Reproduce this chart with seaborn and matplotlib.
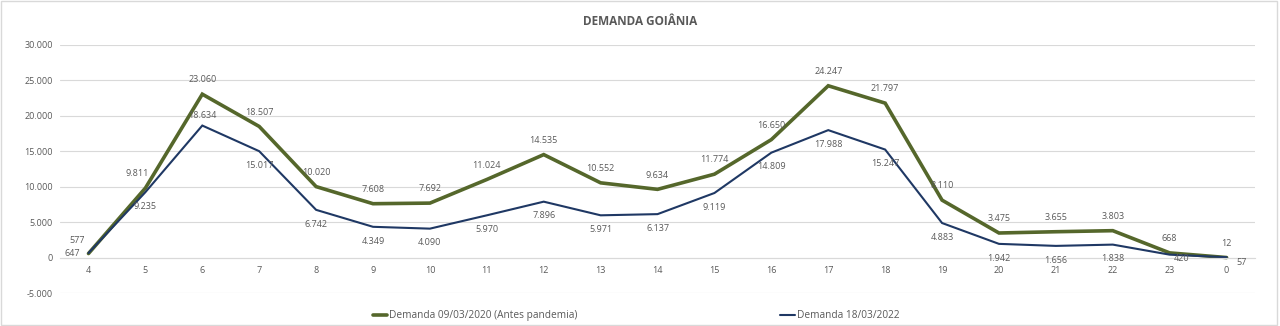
import numpy as np
import pandas as pd
import matplotlib
matplotlib.use("Agg")
import matplotlib.pyplot as plt
from matplotlib.patches import Rectangle
from matplotlib.lines import Line2D
import seaborn as sns

hours = ["4", "5", "6", "7", "8", "9", "10", "11", "12", "13", "14", "15",
         "16", "17", "18", "19", "20", "21", "22", "23", "0"]
demanda_2020 = [577, 9811, 23060, 18507, 10020, 7608, 7692, 11024, 14535, 10552,
                9634, 11774, 16650, 24247, 21797, 8110, 3475, 3655, 3803, 668, 12]
demanda_2022 = [647, 9235, 18634, 15017, 6742, 4349, 4090, 5970, 7896, 5971,
                6137, 9119, 14809, 17988, 15247, 4883, 1942, 1656, 1838, 420, 57]
series_names = ["Demanda 09/03/2020 (Antes pandemia)", "Demanda 18/03/2022"]
y_ticks = [-5000, 0, 5000, 10000, 15000, 20000, 25000, 30000]

GREEN = "#55672b"
BLUE = "#1f3864"
GRAY = "#595959"

sns.set_theme(style="white")
plt.rcParams["font.family"] = ["Open Sans", "DejaVu Sans"]

pos = np.arange(len(hours))
df = pd.DataFrame({
    "pos": np.concatenate([pos, pos]),
    "valor": demanda_2020 + demanda_2022,
    "serie": [series_names[0]] * len(hours) + [series_names[1]] * len(hours),
})

fig = plt.figure(figsize=(12.8, 3.26), dpi=100)
ax = fig.add_axes([0.0469, 0.101, 0.9336, 0.761])

sns.lineplot(data=df, x="pos", y="valor", hue="serie", sort=False,
             palette={series_names[0]: GREEN, series_names[1]: BLUE},
             ax=ax, legend=False)
for line, lw in zip(ax.lines, [2.6, 1.5]):
    line.set_linewidth(lw)
    line.set_solid_joinstyle("miter")

ax.set_xlim(-0.5, len(hours) - 0.5)
ax.set_ylim(-5000, 30000)
ax.set_yticks(y_ticks)
ax.set_yticklabels([f"{t:,}".replace(",", ".") for t in y_ticks])
ax.set_xticks(pos)
ax.set_xticklabels(hours)
ax.grid(axis="y", color="#d9d9d9", linewidth=0.8)
ax.set_axisbelow(True)
for s in ["top", "right", "left"]:
    ax.spines[s].set_visible(False)
ax.spines["bottom"].set_position(("data", 0))
ax.spines["bottom"].set_color("#d9d9d9")
ax.spines["bottom"].set_linewidth(0.8)
ax.tick_params(axis="both", length=0, labelsize=6.5, colors=GRAY)
ax.tick_params(axis="y", pad=5)
ax.tick_params(axis="x", pad=6)
ax.set_xlabel("")
ax.set_ylabel("")

def fmt(v):
    return f"{v:,}".replace(",", ".")

# data labels
for i, v in enumerate(demanda_2020):
    off = (0, 7)
    if i == 0:
        off = (-8, 6)
    elif i == 1:
        off = (-6, 7)
    ax.annotate(fmt(v), (pos[i], v), xytext=off, textcoords="offset points",
                ha="center", va="bottom", fontsize=6.5, color=GRAY)
for i, v in enumerate(demanda_2022):
    off, ha, va = (0, -7), "center", "top"
    if i == 0:
        off, ha, va = (-6, 0), "right", "center"
    elif i == 2:
        off, ha, va = (0, 4), "center", "bottom"
    elif i == len(hours) - 2:
        off, ha, va = (3, -3), "left", "center"
    elif i == len(hours) - 1:
        off, ha, va = (7, -4), "left", "center"
    ax.annotate(fmt(v), (pos[i], v), xytext=off, textcoords="offset points",
                ha=ha, va=va, fontsize=6.5, color=GRAY)

fig.text(0.5, 0.935, "DEMANDA GOIÂNIA", ha="center", va="center",
         fontsize=8.5, fontweight="bold", color=GRAY)

handles = [Line2D([], [], color=GREEN, lw=2.6), Line2D([], [], color=BLUE, lw=1.5)]
leg = fig.legend(handles, series_names, loc="center", bbox_to_anchor=(0.497, 0.031),
                 ncol=2, frameon=False, fontsize=7.3, handlelength=1.4,
                 handletextpad=0.2, columnspacing=20)
for t in leg.get_texts():
    t.set_color(GRAY)

fig.patches.append(Rectangle((0.001, 0.004), 0.997, 0.992, transform=fig.transFigure,
                             fill=False, edgecolor="#d9d9d9", linewidth=1))

fig.savefig("out.png", dpi=100, facecolor="white")
